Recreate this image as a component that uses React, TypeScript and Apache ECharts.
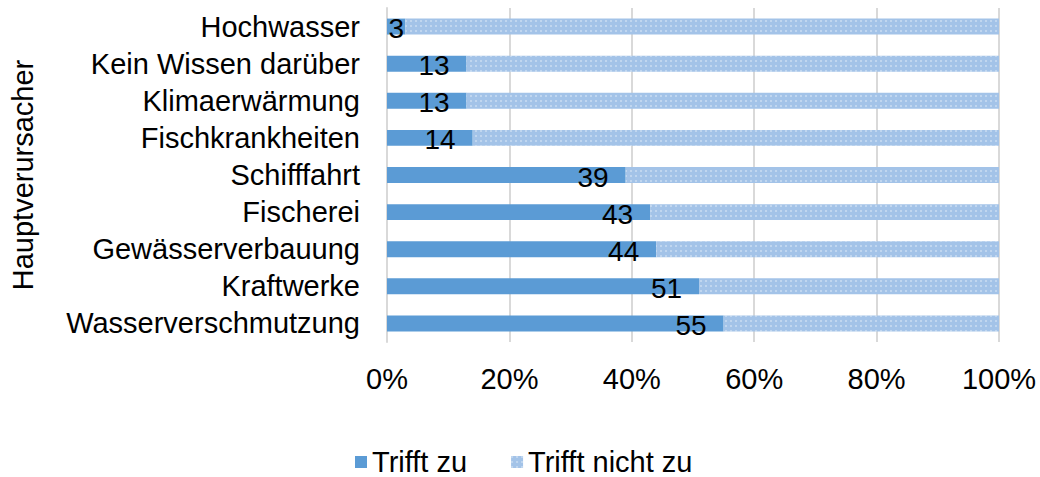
import React, { useEffect, useRef } from "react";
import * as echarts from "echarts";

const categories = [
  "Wasserverschmutzung",
  "Kraftwerke",
  "Gewässerverbauung",
  "Fischerei",
  "Schifffahrt",
  "Fischkrankheiten",
  "Klimaerwärmung",
  "Kein Wissen darüber",
  "Hochwasser",
];
const zuValues = [55, 51, 44, 43, 39, 14, 13, 13, 3];
const nichtZuValues = [45, 49, 56, 57, 61, 86, 87, 87, 97];
const seriesNames = ["Trifft zu", "Trifft nicht zu"];
const axisName = "Hauptverursacher";

export default function App() {
  const ref = useRef<HTMLDivElement>(null);
  useEffect(() => {
    document.body.style.margin = "0";
    if (!ref.current) return;
    const chart = echarts.init(ref.current, null, { renderer: "svg" });
    const font = "Liberation Sans, Arial, sans-serif";
    chart.setOption({
      animation: false,
      textStyle: { fontFamily: font },
      grid: { left: 387, right: 41, top: 8, bottom: 135, containLabel: false },
      legend: {
        bottom: 0,
        left: 355,
        padding: 0,
        itemWidth: 12,
        itemHeight: 12,
        itemGap: 44,
        icon: "rect",
        textStyle: { fontSize: 29, color: "#000", fontFamily: font, lineHeight: 30 },
        data: seriesNames,
      },
      xAxis: {
        type: "value",
        min: 0,
        max: 100,
        interval: 20,
        axisLabel: {
          formatter: "{value}%",
          fontSize: 29,
          color: "#000",
          margin: 22,
          fontFamily: font,
        },
        splitLine: { show: true, lineStyle: { color: "#d9d9d9", width: 2 } },
        axisLine: { show: false },
        axisTick: { show: false },
      },
      yAxis: {
        type: "category",
        data: categories,
        name: axisName,
        nameLocation: "middle",
        nameGap: 350,
        nameRotate: 90,
        nameTextStyle: { fontSize: 29, color: "#000", fontFamily: font },
        axisLabel: {
          fontSize: 29,
          color: "#000",
          margin: 27,
          fontFamily: font,
          interval: 0,
        },
        axisLine: { show: true, lineStyle: { color: "#d9d9d9", width: 2 } },
        axisTick: { show: false },
      },
      series: [
        {
          name: seriesNames[0],
          type: "bar",
          stack: "total",
          barWidth: "43%",
          data: zuValues.map((v) =>
            v < 5 ? { value: v, label: { position: "inside" } } : v
          ),
          itemStyle: { color: "#5b9bd5" },
          label: {
            show: true,
            position: "insideRight",
            distance: 17,
            offset: [0, 2],
            fontSize: 28,
            color: "#000",
            fontFamily: font,
          },
        },
        {
          name: seriesNames[1],
          type: "bar",
          stack: "total",
          barWidth: "43%",
          data: nichtZuValues,
          itemStyle: {
            color: "#a3c3e8",
            decal: {
              symbol: "rect",
              symbolSize: 0.7,
              color: "rgba(255,255,255,0.6)",
              dashArrayX: [2, 3],
              dashArrayY: [2, 3],
              rotation: 0,
            },
          },
        },
      ],
    });
    return () => chart.dispose();
  }, []);
  return <div ref={ref} style={{ width: 1040, height: 477 }} />;
}
